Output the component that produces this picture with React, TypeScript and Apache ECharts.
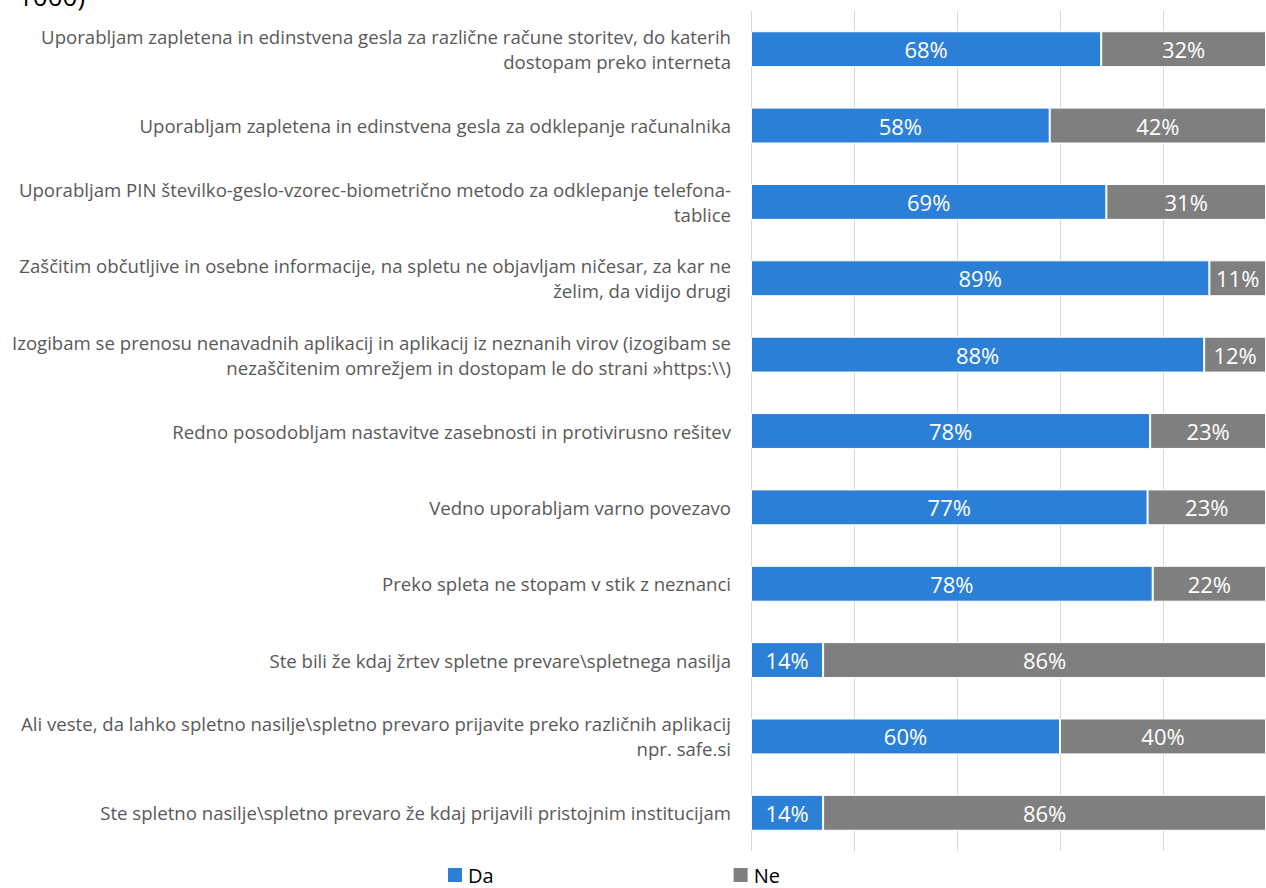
import React, { useEffect, useRef } from "react";
import * as echarts from "echarts";

const categories: string[] = [
  "Uporabljam zapletena in edinstvena gesla za različne račune storitev, do katerih\ndostopam preko interneta",
  "Uporabljam zapletena in edinstvena gesla za odklepanje računalnika",
  "Uporabljam PIN številko-geslo-vzorec-biometrično metodo za odklepanje telefona-\ntablice",
  "Zaščitim občutljive in osebne informacije, na spletu ne objavljam ničesar, za kar ne\nželim, da vidijo drugi",
  "Izogibam se prenosu nenavadnih aplikacij in aplikacij iz neznanih virov (izogibam se\nnezaščitenim omrežjem in dostopam le do strani »https:\\\\)",
  "Redno posodobljam nastavitve zasebnosti in protivirusno rešitev",
  "Vedno uporabljam varno povezavo",
  "Preko spleta ne stopam v stik z neznanci",
  "Ste bili že kdaj žrtev spletne prevare\\spletnega nasilja",
  "Ali veste, da lahko spletno nasilje\\spletno prevaro prijavite preko različnih aplikacij\nnpr. safe.si",
  "Ste spletno nasilje\\spletno prevaro že kdaj prijavili pristojnim institucijam",
];

const daValues: number[] = [68, 58, 69, 89, 88, 77.5, 77, 78, 14, 60, 14];
const neValues: number[] = [32, 42, 31, 11, 12, 22.5, 23, 22, 86, 40, 86];

const seriesNames: string[] = ["Da", "Ne"];
const titleFragment = "1000)";

export default function App() {
  const ref = useRef<HTMLDivElement>(null);
  useEffect(() => {
    if (!ref.current) return;
    const chart = echarts.init(ref.current, undefined, { renderer: "svg" });
    const labelCfg = {
      show: true,
      position: "inside",
      color: "#ffffff",
      fontSize: 22,
      fontFamily: "Open Sans",
      formatter: (p: any) => Math.round(p.value) + "%",
    };
    chart.setOption({
      animation: false,
      backgroundColor: "#ffffff",
      graphic: [
        {
          type: "text",
          left: 18,
          top: -17,
          style: { text: titleFragment, fontSize: 26, fontFamily: "Open Sans", fill: "#000000" },
        },
      ],
      legend: {
        data: seriesNames,
        left: 446,
        top: 865,
        padding: 0,
        itemWidth: 16,
        itemHeight: 16,
        itemGap: 238,
        icon: "rect",
        textStyle: { fontSize: 20, lineHeight: 20, fontFamily: "Open Sans", color: "#000000" },
      },
      grid: { left: 751, right: -5, top: 11, bottom: 37, containLabel: false },
      xAxis: {
        type: "value",
        min: 0,
        max: 100,
        interval: 20,
        axisLabel: { show: false },
        axisLine: { show: false },
        axisTick: { show: false },
        splitLine: { show: true, lineStyle: { color: "#d9d9d9", width: 1 } },
      },
      yAxis: {
        type: "category",
        inverse: true,
        data: categories,
        axisLine: { show: false },
        axisTick: { show: false },
        axisLabel: {
          margin: 20,
          color: "#595959",
          fontSize: 18.6,
          fontFamily: "Open Sans",
          lineHeight: 25,
          align: "right",
        },
      },
      series: [
        {
          name: seriesNames[0],
          type: "bar",
          stack: "total",
          barWidth: "47%",
          data: daValues,
          itemStyle: { color: "#2b7fd7", borderColor: "#ffffff", borderWidth: 1 },
          label: labelCfg,
        },
        {
          name: seriesNames[1],
          type: "bar",
          stack: "total",
          barWidth: "47%",
          data: neValues,
          itemStyle: { color: "#7f7f7f", borderColor: "#ffffff", borderWidth: 1 },
          label: labelCfg,
        },
      ],
    });
    return () => chart.dispose();
  }, []);
  return (
    <div
      ref={ref}
      style={{ position: "absolute", left: 0, top: 0, width: 1266, height: 888 }}
    />
  );
}
